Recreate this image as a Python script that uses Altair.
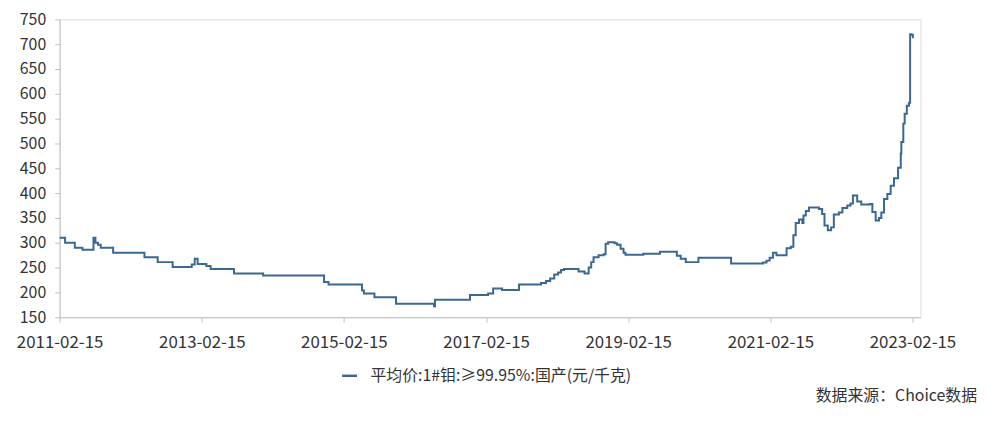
import altair as alt
import pandas as pd

# ---- data ----
dates = ["2011-02-15","2011-03-15","2011-05-04","2011-06-12","2011-08-08","2011-08-18","2011-08-31","2011-09-14","2011-11-17","2012-04-26",
         "2012-07-03","2012-09-18","2012-12-25","2013-01-09","2013-01-24","2013-03-10","2013-04-01","2013-07-30","2013-12-27","2014-11-05",
         "2014-11-28","2015-05-19","2015-05-29","2015-07-22","2015-11-10","2016-05-23","2016-05-28","2016-11-24","2017-02-25","2017-03-23",
         "2017-05-08","2017-08-03","2017-11-24","2017-12-20","2018-01-10","2018-01-31","2018-02-20","2018-03-07","2018-03-22","2018-06-05",
         "2018-07-06","2018-07-27","2018-08-09","2018-08-21","2018-09-16","2018-10-12","2018-10-22","2018-11-04","2018-12-07","2018-12-20",
         "2019-01-07","2019-01-22","2019-02-01","2019-05-04","2019-07-28","2019-10-23","2019-11-12","2019-12-08","2020-02-11","2020-07-28",
         "2021-01-08","2021-01-26","2021-02-11","2021-02-28","2021-03-18","2021-05-09","2021-05-31","2021-06-13","2021-06-25","2021-07-12",
         "2021-07-29","2021-08-04","2021-08-16","2021-09-01","2021-10-22","2021-11-08","2021-11-20","2021-12-07","2021-12-24","2022-01-07",
         "2022-02-02","2022-02-20","2022-03-17","2022-04-03","2022-04-15","2022-05-07","2022-05-28","2022-07-12","2022-07-24","2022-08-10",
         "2022-08-27","2022-09-08","2022-09-22","2022-10-09","2022-10-26","2022-11-12","2022-12-03","2022-12-17","2022-12-20","2022-12-30",
         "2023-01-06","2023-01-17","2023-01-28","2023-02-03","2023-02-10","2023-02-17"]

values = [310,300,290,286,310,300,296,290,280,271,
          261,251,256,268,257,253,247,238,234,221,
          216,204,198,190,177,172,185,195,198,208,
          205,216,219,223,228,236,240,245,247,242,
          238,250,261,271,275,277,298,301,299,296,
          288,280,276,278,282,274,268,261,270,258,
          260,264,270,280,275,289,292,315,340,347,
          340,355,364,371,368,358,335,325,331,357,
          361,370,375,379,395,383,377,378,362,345,
          350,361,388,398,415,430,451,480,503,540,
          560,576,582,720,719,712]

series_name = "平均价:1#钼:≥99.95%:国产(元/千克)"
source_text = "数据来源：Choice数据"
y_ticks = [150, 200, 250, 300, 350, 400, 450, 500, 550, 600, 650, 700, 750]
x_tick_years = [2011, 2013, 2015, 2017, 2019, 2021, 2023]

df = pd.DataFrame({"date": dates, "value": values, "series": series_name})
src = pd.DataFrame({"t": [source_text]})

FONT = "Noto Sans CJK SC"
LINE_COLOR = "#3B6793"
TEXT_COLOR = "#333333"
AXIS_COLOR = "#BFBFBF"

line = alt.Chart(df).mark_line(interpolate="step-after", strokeWidth=2).encode(
    x=alt.X(
        "date:T",
        scale=alt.Scale(
            type="utc",
            domain=[alt.DateTime(year=2011, month=2, date=15, utc=True),
                    alt.DateTime(year=2023, month=3, date=28, utc=True)],
        ),
        axis=alt.Axis(
            title=None,
            values=[alt.DateTime(year=y, month=2, date=15, utc=True) for y in x_tick_years],
            labelExpr="utcFormat(datum.value, '%Y-%m-%d')",
            labelFont=FONT, labelFontSize=17, labelColor=TEXT_COLOR,
            labelPadding=12, labelOverlap=False, labelFlush=False,
            domainColor=AXIS_COLOR, tickColor=AXIS_COLOR, tickSize=5,
            grid=False,
        ),
    ),
    y=alt.Y(
        "value:Q",
        scale=alt.Scale(domain=[150, 750], nice=False, zero=False),
        axis=alt.Axis(
            title=None, values=y_ticks,
            labelFont=FONT, labelFontSize=16, labelColor=TEXT_COLOR,
            labelPadding=9,
            domainColor=AXIS_COLOR, tickColor=AXIS_COLOR, tickSize=5,
            grid=False,
        ),
    ),
    color=alt.Color(
        "series:N",
        scale=alt.Scale(range=[LINE_COLOR]),
        legend=alt.Legend(
            title=None, orient="none", legendX=283, legendY=350,
            symbolType="stroke", symbolSize=225, symbolStrokeWidth=2.5,
            labelFont=FONT, labelFontSize=16, labelColor=TEXT_COLOR,
            labelOffset=12, padding=0, labelLimit=400,
        ),
    ),
)

source = alt.Chart(src).mark_text(
    align="right", baseline="middle", font=FONT, fontSize=16, color=TEXT_COLOR
).encode(
    text="t:N",
    x=alt.value(924),
    y=alt.value(379),
)

chart = alt.layer(line, source).properties(
    width=867, height=300,
    autosize=alt.AutoSizeParams(type="none"),
    padding={"left": 52, "top": 10, "right": 60, "bottom": 93},
).configure_view(stroke=None).configure(background="white")

chart.save("out.html", embed_options={"renderer": "svg", "actions": False})
